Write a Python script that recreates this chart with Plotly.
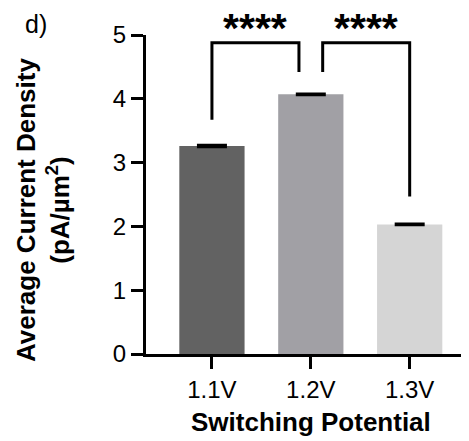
import plotly.graph_objects as go

# ---- data ----
categories = ["1.1V", "1.2V", "1.3V"]
mean_density = [3.26, 4.07, 2.03]
sem_density = [0.015, 0.01, 0.01]
bar_colors = ["#626262", "#a1a0a5", "#d5d5d5"]
y_ticks = [0, 1, 2, 3, 4, 5]

# significance brackets
bracket_left_x = [0.0, 1.12]
bracket_right_x = [0.88, 2.0]
bracket_left_bottom = [3.67, 4.42]
bracket_right_bottom = [4.42, 2.47]
bracket_top = [4.88, 4.88]
bracket_labels = ["****", "****"]

FONT = "Liberation Sans, Arial, Helvetica, sans-serif"

fig = go.Figure()
fig.add_trace(go.Bar(
    x=list(range(len(categories))),
    y=mean_density,
    width=0.66,
    marker=dict(color=bar_colors, line=dict(width=0)),
    error_y=dict(type="data", array=sem_density, visible=True,
                 color="black", thickness=2.5, width=15),
    showlegend=False,
))

for i in range(len(bracket_labels)):
    fig.add_trace(go.Scatter(
        x=[bracket_left_x[i], bracket_left_x[i], bracket_right_x[i], bracket_right_x[i]],
        y=[bracket_left_bottom[i], bracket_top[i], bracket_top[i], bracket_right_bottom[i]],
        mode="lines", line=dict(color="black", width=3),
        showlegend=False, hoverinfo="skip",
    ))
    fig.add_annotation(
        x=(bracket_left_x[i] + bracket_right_x[i]) / 2, xref="x",
        y=1, yref="paper", yanchor="middle", yshift=7,
        text="<b>" + bracket_labels[i] + "</b>", showarrow=False,
        font=dict(family=FONT, size=41, color="black"),
    )

fig.add_annotation(
    x=0, xref="paper", xanchor="center", xshift=-103,
    y=0, yref="paper", yanchor="middle", yshift=144,
    text="<b>Average Current Density<br>(pA/µm<sup>2</sup>)</b>",
    textangle=-90, showarrow=False,
    font=dict(family=FONT, size=26, color="black"),
)
fig.add_annotation(
    x=1, xref="x", xanchor="center",
    y=0, yref="paper", yanchor="middle", yshift=-68,
    text="<b>Switching Potential</b>", showarrow=False,
    font=dict(family=FONT, size=26, color="black"),
)
fig.add_annotation(
    x=0, xref="paper", xanchor="center", xshift=-110,
    y=1, yref="paper", yanchor="middle", yshift=11,
    text="d)", showarrow=False,
    font=dict(family=FONT, size=25, color="black"),
)

# the page body adds an 8px margin, so the figure is 8px smaller than the window
fig.update_layout(
    width=461, height=433,
    margin=dict(l=138, r=0, t=27, b=87),
    paper_bgcolor="white", plot_bgcolor="white",
    font=dict(family=FONT, color="black"),
)
fig.update_xaxes(
    range=[-0.667, 2.6],
    tickmode="array", tickvals=list(range(len(categories))), ticktext=categories,
    showline=True, linecolor="black", linewidth=3,
    ticks="outside", ticklen=12, tickwidth=3, tickcolor="black",
    tickfont=dict(family=FONT, size=24, color="black"),
    showgrid=False, zeroline=False,
)
fig.update_yaxes(
    range=[0, 5],
    tickmode="array", tickvals=y_ticks,
    showline=True, linecolor="black", linewidth=3,
    ticks="outside", ticklen=12, tickwidth=3, tickcolor="black",
    tickfont=dict(family=FONT, size=24, color="black"),
    showgrid=False, zeroline=False,
)

fig.write_html("out.html")
